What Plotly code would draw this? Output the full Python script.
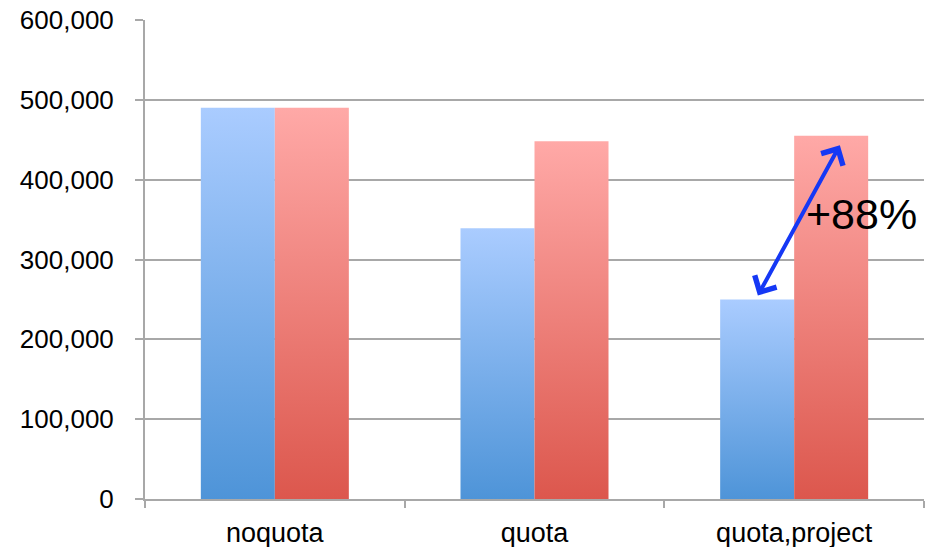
import plotly.graph_objects as go

# Throughput per configuration (two runs each)
categories = ["noquota", "quota", "quota,project"]
blue_values = [490000, 339000, 250000]
red_values = [490000, 448000, 455000]
y_ticks = [0, 100000, 200000, 300000, 400000, 500000, 600000]
y_tick_labels = ["0", "100,000", "200,000", "300,000", "400,000", "500,000", "600,000"]
gain_label = "+88%"

BAR_W = 0.285
BLUE = ("#4E94D8", "#AACCFF")   # bottom, top
RED = ("#DC574D", "#FFA9A7")
GRID = "#A8A8A8"
FONT = "Liberation Sans, Arial, sans-serif"

fig = go.Figure()


def add_bar(x0, x1, value, colors):
    fig.add_trace(go.Scatter(
        x=[x0, x0, x1, x1, x0],
        y=[0, value, value, 0, 0],
        mode="lines",
        line=dict(width=0),
        fill="toself",
        fillgradient=dict(
            type="vertical",
            colorscale=[[0, colors[0]], [1, colors[1]]],
            start=0,
            stop=value,
        ),
        hoverinfo="skip",
        showlegend=False,
    ))


for i, (b, r) in enumerate(zip(blue_values, red_values)):
    add_bar(i - BAR_W, i, b, BLUE)
    add_bar(i, i + BAR_W, r, RED)

# Double-headed arrow between the two quota,project bars
fig.add_annotation(
    x=2.176, y=443000, xref="x", yref="y",
    ax=1.857, ay=253000, axref="x", ayref="y",
    text="", showarrow=True,
    arrowhead=4, startarrowhead=4, arrowside="end+start",
    arrowwidth=4, arrowsize=1.2, startarrowsize=1.2,
    arrowcolor="#1538F5",
)
fig.add_annotation(
    x=2.26, y=357000, xref="x", yref="y",
    text=gain_label, showarrow=False,
    font=dict(family=FONT, size=43, color="#000000"),
)

fig.update_layout(
    width=930, height=547,
    margin=dict(l=145, r=6, t=20, b=48, autoexpand=False),
    paper_bgcolor="white", plot_bgcolor="white",
    font=dict(family=FONT, size=26, color="#000000"),
    showlegend=False,
)
fig.update_xaxes(
    range=[-0.5, 2.5],
    tickvals=[0, 1, 2], ticktext=categories,
    tickfont=dict(size=27),
    ticks="", showgrid=False, zeroline=False,
    showline=True, linecolor=GRID, linewidth=2,
    ticklabelstandoff=9,
    minor=dict(tickvals=[-0.5, 0.5, 1.5, 2.5], ticks="outside",
               ticklen=7, tickcolor=GRID, tickwidth=2, showgrid=False),
    fixedrange=True,
)
fig.update_yaxes(
    range=[0, 600000],
    tickvals=y_ticks, ticktext=y_tick_labels,
    ticks="outside", ticklen=8, tickcolor=GRID, tickwidth=2,
    showgrid=True, gridcolor=GRID, gridwidth=1.5,
    zeroline=False,
    showline=True, linecolor=GRID, linewidth=2,
    ticklabelstandoff=16,
    fixedrange=True,
)

fig.write_html("out.html")
